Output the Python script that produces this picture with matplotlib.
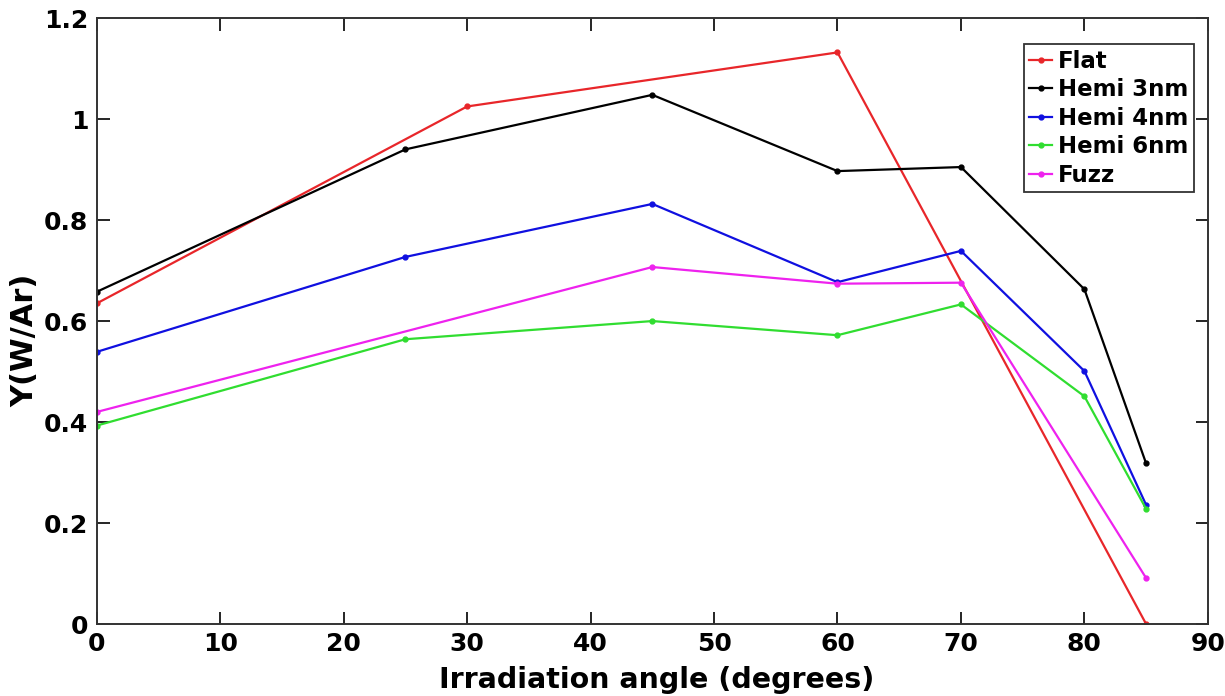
import numpy as np
import matplotlib.pyplot as plt

# irradiation angles (degrees) and sputtering yields for each surface
ang_flat = [0, 30, 60, 85]
y_flat = [0.635, 1.025, 1.132, 0.0]

ang_hemi = [0, 25, 45, 60, 70, 80, 85]
y_hemi3 = [0.658, 0.940, 1.048, 0.897, 0.905, 0.663, 0.318]
y_hemi4 = [0.539, 0.727, 0.832, 0.677, 0.739, 0.501, 0.236]
y_hemi6 = [0.393, 0.564, 0.600, 0.572, 0.633, 0.451, 0.228]

ang_fuzz = [0, 45, 60, 70, 85]
y_fuzz = [0.420, 0.707, 0.674, 0.676, 0.091]

plt.rcParams['font.family'] = 'DejaVu Sans'
plt.rcParams['font.weight'] = 'bold'

fig = plt.figure(figsize=(12.25, 6.96), dpi=100)
ax = fig.add_axes([0.079, 0.1034, 0.907, 0.8706])

kw = dict(lw=1.6, marker='.', ms=7)
ax.plot(ang_flat, y_flat, color='#e8262a', label='Flat', **kw)
ax.plot(ang_hemi, y_hemi3, color='black', label='Hemi 3nm', **kw)
ax.plot(ang_hemi, y_hemi4, color='#1010e0', label='Hemi 4nm', **kw)
ax.plot(ang_hemi, y_hemi6, color='#30dd30', label='Hemi 6nm', **kw)
ax.plot(ang_fuzz, y_fuzz, color='#ee22ee', label='Fuzz', **kw)

ax.set_xlim(0, 90)
ax.set_ylim(0, 1.2)
ax.set_xticks(np.arange(0, 91, 10))
ax.set_yticks([0, 0.2, 0.4, 0.6, 0.8, 1, 1.2])
ax.set_yticklabels(['0', '0.2', '0.4', '0.6', '0.8', '1', '1.2'])
ax.tick_params(direction='in', length=9, width=1.2, top=True, right=True,
               labelsize=18, pad=6)
for s in ax.spines.values():
    s.set_linewidth(1.4)
    s.set_color('#333333')

ax.set_xlabel('Irradiation angle (degrees)', fontsize=20.5, fontweight='bold')
ax.xaxis.set_label_coords(0.504, -0.093)
ax.xaxis.label.set_va('center')
ax.set_ylabel('Y(W/Ar)', fontsize=22, fontweight='bold')
ax.yaxis.set_label_coords(-0.052, 0.469)

leg = ax.legend(loc='upper right', bbox_to_anchor=(1194 / 1225, 1 - 44 / 696),
                bbox_transform=fig.transFigure, fontsize=16.5, handlelength=1.0,
                handletextpad=0.25, borderaxespad=0, borderpad=0.25,
                labelspacing=0.24, fancybox=False, framealpha=1,
                edgecolor='#333333')
leg.get_frame().set_linewidth(1.3)

fig.savefig('out.png', dpi=100)
